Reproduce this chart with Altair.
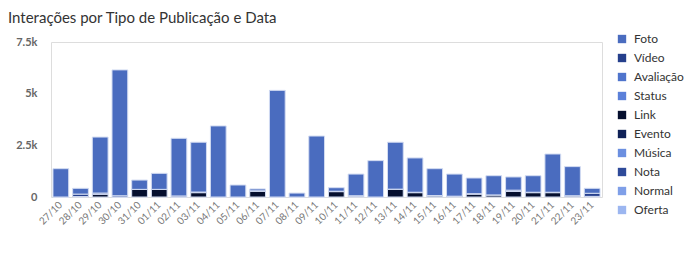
import altair as alt
import pandas as pd

datas = ["27/10", "28/10", "29/10", "30/10", "31/10", "01/11", "02/11", "03/11", "04/11",
         "05/11", "06/11", "07/11", "08/11", "09/11", "10/11", "11/11", "12/11", "13/11",
         "14/11", "15/11", "16/11", "17/11", "18/11", "19/11", "20/11", "21/11", "22/11", "23/11"]

foto = [1370, 280, 2710, 6090, 450, 775, 2790, 2410, 3440, 580, 90, 5160, 190, 2950,
        170, 1050, 1760, 2270, 1660, 1300, 1070, 760, 930, 640, 800, 1850, 1410, 240]
video = [0, 120, 60, 60, 0, 0, 50, 30, 0, 0, 20, 0, 0, 0, 20, 20, 0, 0, 20, 20, 0, 20, 0, 60,
         20, 20, 10, 150]
link = [0, 20, 130, 0, 370, 370, 0, 210, 0, 0, 280, 0, 0, 0, 260, 40, 0, 380, 210, 50, 40,
        140, 100, 270, 210, 210, 50, 30]

tipos = ["Foto", "Vídeo", "Avaliação", "Status", "Link", "Evento", "Música", "Nota", "Normal", "Oferta"]
cores = ["#4a6cbf", "#253f8c", "#4f74cc", "#5b80d9", "#050f2e", "#0f2157", "#6b8fe0", "#2e4a99",
         "#7f9fe8", "#9cb6f0"]
empilhamento = {"Link": 0, "Vídeo": 1, "Foto": 2}

rows = []
for i, d in enumerate(datas):
    for tipo, serie in (("Link", link), ("Vídeo", video), ("Foto", foto)):
        rows.append({"Data": d, "Tipo": tipo, "Interacoes": serie[i], "ordem": empilhamento[tipo]})
df = pd.DataFrame(rows)

chart = alt.Chart(df).mark_bar(stroke="#d3dcf2", strokeWidth=1).encode(
    x=alt.X("Data:N", sort=datas, title=None,
            scale=alt.Scale(paddingInner=0.2, paddingOuter=0.1),
            axis=alt.Axis(labelAngle=-45, labelAlign="right", labelBaseline="middle",
                          labelFontSize=10, labelColor="#777", labelFont="Lato",
                          ticks=False, domain=False, labelPadding=6)),
    y=alt.Y("sum(Interacoes):Q", title=None, stack="zero",
            scale=alt.Scale(domain=[0, 7500], nice=False),
            axis=alt.Axis(values=[0, 2500, 5000, 7500], grid=False, ticks=False,
                          labelExpr="datum.value == 0 ? '0' : format(datum.value / 1000, '~g') + 'k'",
                          domain=False, labelFontSize=11, labelFontWeight="bold",
                          labelColor="#666", labelFont="Lato", labelPadding=14)),
    color=alt.Color("Tipo:N", scale=alt.Scale(domain=tipos, range=cores), title=None,
                    legend=alt.Legend(orient="none", legendX=565, legendY=-9,
                                      symbolType="square", symbolSize=70,
                                      symbolStrokeWidth=0, symbolOpacity=1,
                                      labelFontSize=12, labelColor="#333", labelFont="Lato",
                                      rowPadding=7, labelOffset=6)),
    order=alt.Order("ordem:Q", sort="ascending"),
).properties(
    width=551, height=155,
    title=alt.TitleParams("Interações por Tipo de Publicação e Data", anchor="start",
                          frame="group", font="Lato", fontSize=15, fontWeight="normal",
                          color="#333", dx=-43, offset=7),
    autosize=alt.AutoSizeParams(type="none"),
    padding={"left": 51, "top": 42, "right": 98, "bottom": 72},
).configure_view(stroke="#dddddd")

chart.save("out.html", embed_options={"renderer": "svg", "actions": False})
